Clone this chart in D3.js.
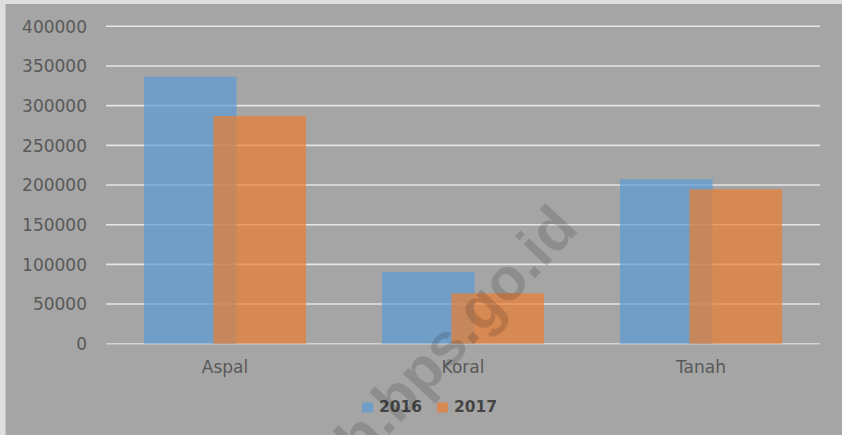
<!DOCTYPE html>
<html>
<head>
<meta charset="utf-8">
<script src="https://cdn.jsdelivr.net/npm/d3@7"></script>
<style>
  body { margin: 0; background: #dedede; }
  svg { display: block; }
  .tick-label { font-family: "DejaVu Sans", sans-serif; font-size: 17px; fill: #595959; }
  .legend-label { font-family: "DejaVu Sans", sans-serif; font-size: 15.5px; font-weight: bold; fill: #454545; }
</style>
</head>
<body>
<div id="chart"></div>
<script>

// data
var categories = ["Aspal", "Koral", "Tanah"];
var seriesNames = ["2016", "2017"];
var values2016 = [336500, 90400, 207200];
var values2017 = [287000, 63500, 194600];
var yTicks = [0, 50000, 100000, 150000, 200000, 250000, 300000, 350000, 400000];

var colors = ["#5b9bd5", "#ed7d31"];

var width = 842, height = 435;

var svg = d3.select("#chart").append("svg")
    .attr("width", width)
    .attr("height", height);

// chart area (light strip left/top like the screenshot)
svg.append("rect")
    .attr("x", 5).attr("y", 4)
    .attr("width", width - 5).attr("height", height - 4)
    .attr("fill", "#a5a5a5");
svg.append("line")
    .attr("x1", 5.5).attr("x2", 5.5).attr("y1", 4).attr("y2", height)
    .attr("stroke", "#c4c4c4");

// scales
var x = d3.scaleBand()
    .domain(categories)
    .range([106, 820])
    .padding(0);

var y = d3.scaleLinear()
    .domain([0, 400000])
    .range([343.7, 26.3]);

// gridlines
svg.selectAll(".grid")
    .data(yTicks)
    .enter().append("line")
    .attr("class", "grid")
    .attr("x1", 106).attr("x2", 820)
    .attr("y1", function(d) { return y(d); })
    .attr("y2", function(d) { return y(d); })
    .attr("stroke", function(d) { return d === 0 ? "#d2d2d2" : "#e6e6e6"; })
    .attr("stroke-width", 1.6);

// y tick labels
svg.selectAll(".tick-label")
    .data(yTicks)
    .enter().append("text")
    .attr("class", "tick-label")
    .attr("x", 87)
    .attr("y", function(d) { return y(d) + 6.2; })
    .attr("text-anchor", "end")
    .text(function(d) { return d; });

// bars: 25% overlap, gap width 82%
var barW = x.bandwidth() / (1.75 + 0.82);
var step = 0.75 * barW;
var groupW = barW + step;

var allSeries = [values2016, values2017];

allSeries.forEach(function(vals, s) {
    svg.selectAll(".bar-" + s)
        .data(vals)
        .enter().append("rect")
        .attr("class", "bar-" + s)
        .attr("x", function(d, i) {
            return x(categories[i]) + x.bandwidth() / 2 - groupW / 2 + s * step;
        })
        .attr("y", function(d) { return y(d); })
        .attr("width", barW)
        .attr("height", function(d) { return y(0) - y(d); })
        .attr("fill", colors[s])
        .attr("fill-opacity", 0.7);
});

// category labels
svg.selectAll(".cat-label")
    .data(categories)
    .enter().append("text")
    .attr("class", "tick-label cat-label")
    .attr("x", function(d) { return x(d) + x.bandwidth() / 2; })
    .attr("y", 372.7)
    .attr("text-anchor", "middle")
    .text(function(d) { return d; });

// legend
var legendX = [362, 437];
var legend = svg.selectAll(".legend")
    .data(seriesNames)
    .enter().append("g")
    .attr("class", "legend")
    .attr("transform", function(d, i) { return "translate(" + legendX[i] + ",0)"; });

legend.append("rect")
    .attr("x", 0).attr("y", 402.5)
    .attr("width", 11).attr("height", 10)
    .attr("fill", function(d, i) { return colors[i]; })
    .attr("fill-opacity", 0.7);

legend.append("text")
    .attr("class", "legend-label")
    .attr("x", 17)
    .attr("y", 412.3)
    .text(function(d) { return d; });

// watermark (only the tail is visible in the screenshot)
svg.append("text")
    .attr("transform", "translate(580,230) rotate(-47)")
    .attr("text-anchor", "end")
    .style("font-family", "'Liberation Sans', Arial, sans-serif")
    .style("font-weight", "bold")
    .style("font-size", "60px")
    .attr("fill", "#000")
    .attr("fill-opacity", 0.14)
    .text("h.bps.go.id");

</script>
</body>
</html>
